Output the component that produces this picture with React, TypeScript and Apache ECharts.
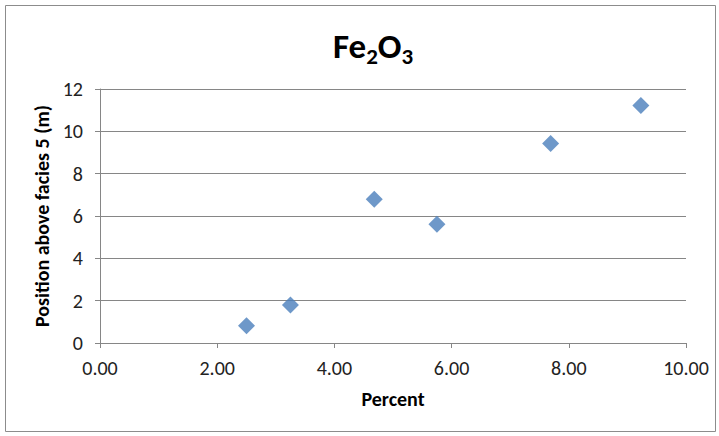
import React, { useEffect, useRef } from "react";
import * as echarts from "echarts";

const percent = [2.5, 3.25, 4.68, 5.75, 7.69, 9.23];
const position = [0.81, 1.8, 6.79, 5.61, 9.42, 11.22];
const xTicks = { min: 0, max: 10, interval: 2 };
const yTicks = { min: 0, max: 12, interval: 2 };

const FONT = "Carlito, 'Liberation Sans Narrow', 'Open Sans', sans-serif";

export default function App() {
  const ref = useRef<HTMLDivElement>(null);
  useEffect(() => {
    document.body.style.margin = "0";
    const chart = echarts.init(ref.current!, null, { renderer: "svg" });
    chart.setOption({
      animation: false,
      backgroundColor: "#ffffff",
      graphic: [
        {
          type: "rect",
          shape: { x: 5.5, y: 5.5, width: 710, height: 426 },
          style: { fill: "none", stroke: "#8c8c8c", lineWidth: 1 },
          silent: true,
        },
      ],
      title: {
        text: "{a|Fe}{s|2}{a|O}{s|3}",
        left: 328,
        top: 23,
        textStyle: {
          rich: {
            a: {
              fontSize: 35,
              fontWeight: "bold",
              fontFamily: FONT,
              color: "#000",
              verticalAlign: "bottom",
              padding: [0, 0, 4, 0],
            },
            s: {
              fontSize: 23,
              fontWeight: "bold",
              fontFamily: FONT,
              color: "#000",
              verticalAlign: "bottom",
            },
          },
        },
      },
      grid: { left: 100, right: 33, top: 89, bottom: 93 },
      xAxis: {
        type: "value",
        min: xTicks.min,
        max: xTicks.max,
        interval: xTicks.interval,
        name: "Percent",
        nameLocation: "middle",
        nameGap: 46,
        nameTextStyle: { fontSize: 20, fontWeight: "bold", fontFamily: FONT, color: "#000" },
        axisLine: { show: true, lineStyle: { color: "#868686" } },
        axisTick: { show: true, length: 5, lineStyle: { color: "#868686" } },
        axisLabel: {
          fontSize: 20,
          fontFamily: FONT,
          color: "#222",
          margin: 15,
          formatter: (v: number) => v.toFixed(2),
        },
        splitLine: { show: false },
      },
      yAxis: {
        type: "value",
        min: yTicks.min,
        max: yTicks.max,
        interval: yTicks.interval,
        name: "Position above facies 5 (m)",
        nameLocation: "middle",
        nameGap: 48,
        nameTextStyle: { fontSize: 20, fontWeight: "bold", fontFamily: FONT, color: "#000" },
        axisLine: { show: true, lineStyle: { color: "#868686" } },
        axisTick: { show: true, length: 5, lineStyle: { color: "#868686" } },
        axisLabel: { fontSize: 20, fontFamily: FONT, color: "#222", margin: 17 },
        splitLine: { show: true, lineStyle: { color: "#868686", width: 1 } },
      },
      series: [
        {
          type: "scatter",
          symbol: "diamond",
          symbolSize: 17,
          itemStyle: { color: "#4a7ebb" },
          data: percent.map((x, i) => [x, position[i]]),
        },
      ],
    });
    return () => chart.dispose();
  }, []);
  return <div ref={ref} style={{ width: 719, height: 436 }} />;
}
